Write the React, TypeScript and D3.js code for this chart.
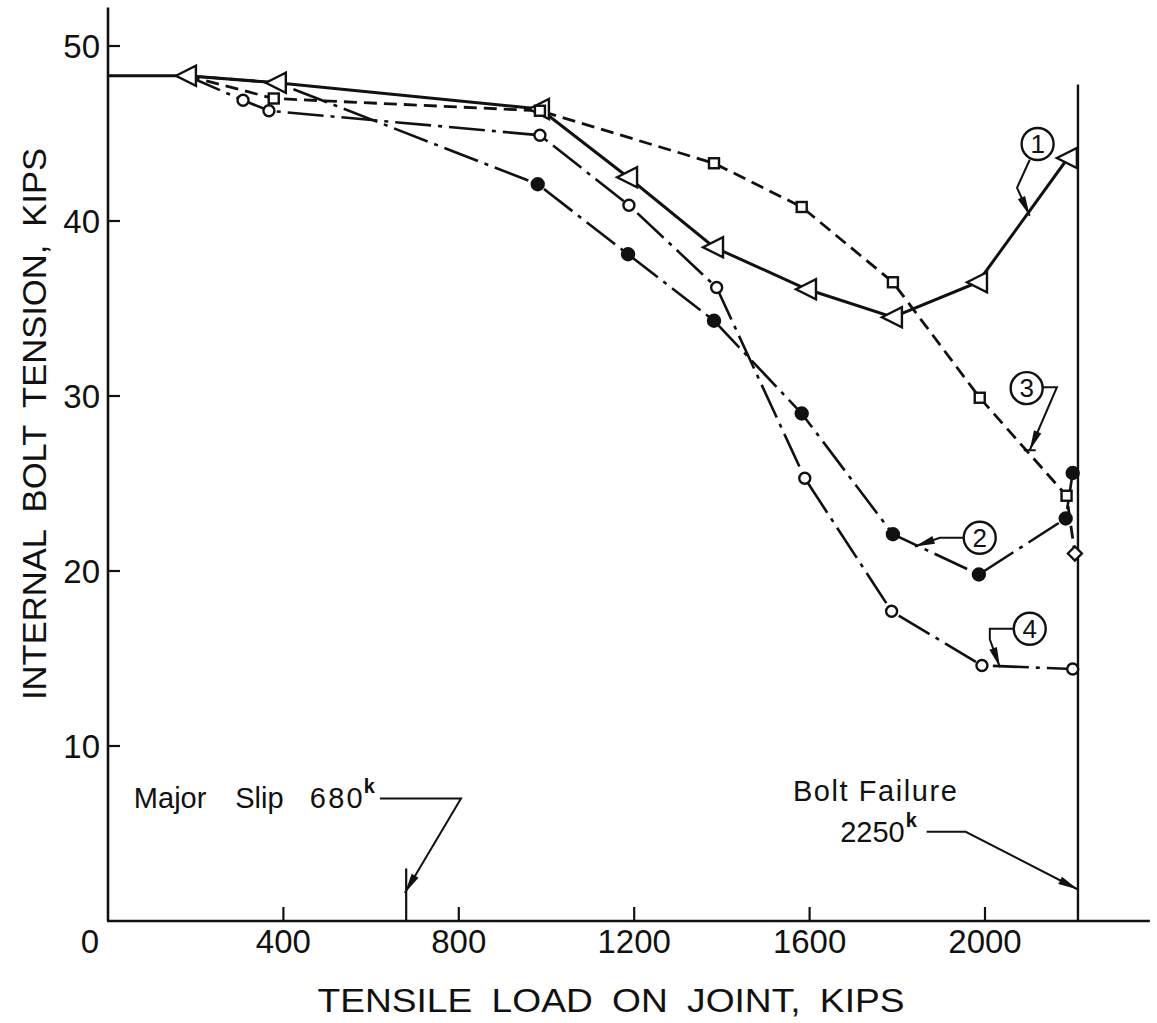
import React, { useEffect, useRef } from 'react'
import * as d3 from 'd3'

// common preload segment before the first reading (kips)
const preloadLoad = [0, 180]
const preloadTension = [48.3, 48.3]

// curve 1 : open triangles, solid line
const load1 = [180, 385, 985, 1186, 1382, 1594, 1790, 1984, 2189]
const tension1 = [48.3, 47.9, 46.4, 42.5, 38.5, 36.1, 34.5, 36.5, 43.6]

// curve 2 : filled circles, dash-dot
const load2 = [180, 385, 980, 1186, 1382, 1582, 1790, 1986, 2184, 2200]
const tension2 = [48.3, 47.9, 42.1, 38.1, 34.3, 29.0, 22.1, 19.8, 23.0, 25.6]

// curve 3 : open squares, dashed (last reading is a diamond)
const load3 = [180, 378, 985, 1382, 1582, 1790, 1988, 2186, 2205]
const tension3 = [48.3, 47.0, 46.3, 43.3, 40.8, 36.5, 29.9, 24.3, 21.0]

// curve 4 : open circles, dash-dot
const load4 = [180, 308, 367, 985, 1188, 1388, 1589, 1787, 1993, 2200]
const tension4 = [48.3, 46.9, 46.3, 44.9, 40.9, 36.2, 25.3, 17.7, 14.6, 14.4]

const xTicks = [400, 800, 1200, 1600, 2000]
const yTicks = [10, 20, 30, 40, 50]

const slipLoad = 680
const failureLoad = 2212 // where the failure line is drawn on the plot
const failureTop = 47.8

// callouts: label, circle centre, leader path (data units)
const callouts = [
    { label: '1', c: [2120, 44.4], path: [[2102, 43.5], [2073, 41.9], [2102, 40.3]], bar: false },
    { label: '3', c: [2095, 30.45], path: [[2132, 30.5], [2164, 30.5], [2102, 26.9]], bar: true },
    { label: '2', c: [1988, 21.9], path: [[1952, 21.9], [1897, 21.9], [1840, 21.4]], bar: false },
    { label: '4', c: [2102, 16.7], path: [[2066, 16.7], [2011, 16.7], [2011, 16.1], [2034, 14.5]], bar: false }
]

const W = 1157
const H = 1023
const FONT = '"Liberation Sans", Arial, sans-serif'

const zip = (a, b) => a.map((v, i) => [v, b[i]])

export default function App() {
    const ref = useRef(null)

    useEffect(() => {
        const svg = d3.select(ref.current)
        svg.selectAll('*').remove()

        const x = d3.scaleLinear().domain([0, 2000]).range([108, 985])
        const y = d3.scaleLinear().domain([0, 50]).range([921, 46])

        const line = d3.line().x(d => x(d[0])).y(d => y(d[1]))

        // axes
        svg.append('line').attr('x1', x(0)).attr('x2', x(0)).attr('y1', y(52.2)).attr('y2', y(0))
            .attr('stroke', '#111').attr('stroke-width', 2.6)
        svg.append('line').attr('x1', x(0) - 1).attr('x2', x(2376)).attr('y1', y(0)).attr('y2', y(0))
            .attr('stroke', '#111').attr('stroke-width', 2.6)

        xTicks.forEach(t => {
            svg.append('line').attr('x1', x(t)).attr('x2', x(t)).attr('y1', y(0)).attr('y2', y(0) - 14)
                .attr('stroke', '#111').attr('stroke-width', 2.2)
            svg.append('text').attr('x', x(t)).attr('y', y(0) + 32).attr('text-anchor', 'middle')
                .attr('font-family', FONT).attr('font-size', 33).attr('fill', '#111').text(t)
        })
        svg.append('text').attr('x', x(0) - 18).attr('y', y(0) + 32).attr('text-anchor', 'middle')
            .attr('font-family', FONT).attr('font-size', 33).attr('fill', '#111').text('0')

        yTicks.forEach(t => {
            svg.append('line').attr('x1', x(0)).attr('x2', x(0) + 12).attr('y1', y(t)).attr('y2', y(t))
                .attr('stroke', '#111').attr('stroke-width', 2.2)
            svg.append('text').attr('x', x(0) - 8).attr('y', y(t) + 12).attr('text-anchor', 'end')
                .attr('font-family', FONT).attr('font-size', 33).attr('fill', '#111').text(t)
        })

        // axis titles
        svg.append('text').attr('x', 611).attr('y', 1012).attr('text-anchor', 'middle')
            .attr('font-family', FONT).attr('font-size', 33).attr('fill', '#111')
            .attr('textLength', 587).attr('lengthAdjust', 'spacingAndGlyphs')
            .attr('word-spacing', 8)
            .text('TENSILE LOAD ON JOINT, KIPS')
        svg.append('text').attr('transform', 'translate(46,424) rotate(-90)').attr('text-anchor', 'middle')
            .attr('font-family', FONT).attr('font-size', 33).attr('fill', '#111')
            .attr('textLength', 552).attr('lengthAdjust', 'spacingAndGlyphs')
            .attr('word-spacing', 8)
            .text('INTERNAL BOLT TENSION, KIPS')

        // bolt failure line
        svg.append('line').attr('x1', x(failureLoad)).attr('x2', x(failureLoad))
            .attr('y1', y(failureTop)).attr('y2', y(0))
            .attr('stroke', '#111').attr('stroke-width', 2.4)

        // curves
        const g = svg.append('g').attr('fill', 'none').attr('stroke', '#111')
        g.append('path').attr('d', line(zip(preloadLoad, preloadTension))).attr('stroke-width', 2.8)
        g.append('path').attr('d', line(zip(load3, tension3))).attr('stroke-width', 2.8)
            .attr('stroke-dasharray', '13,7')
        g.append('path').attr('d', line(zip(load4, tension4))).attr('stroke-width', 2.6)
            .attr('stroke-dasharray', '36,7,4,7')
        g.append('path').attr('d', line(zip(load2, tension2))).attr('stroke-width', 2.6)
            .attr('stroke-dasharray', '36,7,4,7')
        g.append('path').attr('d', line(zip(load1, tension1))).attr('stroke-width', 3)

        // markers
        const m = svg.append('g').attr('stroke', '#111').attr('stroke-width', 2.4)
        zip(load1, tension1).forEach(d => {
            const cx = x(d[0]), cy = y(d[1])
            m.append('path').attr('d', `M${cx - 11},${cy} L${cx + 9},${cy - 10} L${cx + 9},${cy + 10} Z`)
                .attr('fill', '#fff')
        })
        zip(load3, tension3).slice(1).forEach((d, i, arr) => {
            const cx = x(d[0]), cy = y(d[1])
            if (i === arr.length - 1) {
                m.append('path').attr('d', `M${cx},${cy - 7} L${cx + 7},${cy} L${cx},${cy + 7} L${cx - 7},${cy} Z`)
                    .attr('fill', '#fff')
            } else {
                m.append('rect').attr('x', cx - 5).attr('y', cy - 5).attr('width', 10).attr('height', 10)
                    .attr('fill', '#fff')
            }
        })
        zip(load4, tension4).slice(1).forEach(d => {
            m.append('circle').attr('cx', x(d[0])).attr('cy', y(d[1])).attr('r', 5.5).attr('fill', '#fff')
        })
        zip(load2, tension2).slice(2).forEach(d => {
            m.append('circle').attr('cx', x(d[0])).attr('cy', y(d[1])).attr('r', 6).attr('fill', '#111')
        })

        // arrow heads for leaders
        const arrowHead = (p0, p1) => {
            const dx = p1[0] - p0[0], dy = p1[1] - p0[1]
            const len = Math.sqrt(dx * dx + dy * dy)
            const ux = dx / len, uy = dy / len
            const L = 20, w = 4
            const bx = p1[0] - ux * L, by = p1[1] - uy * L
            svg.append('path')
                .attr('d', `M${p1[0]},${p1[1]} L${bx - uy * w},${by + ux * w} L${bx + uy * w},${by - ux * w} Z`)
                .attr('fill', '#111')
        }

        callouts.forEach(c => {
            const cx = x(c.c[0]), cy = y(c.c[1])
            svg.append('circle').attr('cx', cx).attr('cy', cy).attr('r', 16)
                .attr('fill', '#fff').attr('stroke', '#111').attr('stroke-width', 2.4)
            svg.append('text').attr('x', cx).attr('y', cy + 9).attr('text-anchor', 'middle')
                .attr('font-family', FONT).attr('font-size', 26).attr('fill', '#111').text(c.label)
            const pts = c.path.map(p => [x(p[0]), y(p[1])])
            svg.append('path').attr('d', d3.line()(pts)).attr('fill', 'none')
                .attr('stroke', '#111').attr('stroke-width', 2)
            const p0 = pts[pts.length - 2], p1 = pts[pts.length - 1]
            arrowHead(p0, p1)
            if (c.bar) {
                svg.append('line').attr('x1', p1[0] - 6).attr('x2', p1[0] + 6).attr('y1', p1[1]).attr('y2', p1[1])
                    .attr('stroke', '#111').attr('stroke-width', 2)
            }
        })

        // major slip
        svg.append('line').attr('x1', x(slipLoad)).attr('x2', x(slipLoad)).attr('y1', y(3.0)).attr('y2', y(0))
            .attr('stroke', '#111').attr('stroke-width', 2.2)
        const slipPts = [[620, 7.0], [805, 7.0], [677, 1.6]].map(p => [x(p[0]), y(p[1])])
        svg.append('path').attr('d', d3.line()(slipPts)).attr('fill', 'none')
            .attr('stroke', '#111').attr('stroke-width', 2)
        arrowHead(slipPts[1], slipPts[2])
        const slipY = y(7.0) + 9
        const st = svg.append('g').attr('font-family', FONT).attr('font-size', 29).attr('fill', '#111')
        st.append('text').attr('x', x(59)).attr('y', slipY).text('Major')
        st.append('text').attr('x', x(290)).attr('y', slipY).text('Slip')
        st.append('text').attr('x', x(460)).attr('y', slipY).attr('textLength', 53).text('680')
        st.append('text').attr('x', x(583)).attr('y', slipY - 15).attr('font-size', 20).attr('font-weight', 'bold').text('k')

        // bolt failure
        const failPts = [[1867, 5.1], [1956, 5.1], [failureLoad, 1.8]].map(p => [x(p[0]), y(p[1])])
        svg.append('path').attr('d', d3.line()(failPts)).attr('fill', 'none')
            .attr('stroke', '#111').attr('stroke-width', 2)
        arrowHead(failPts[1], failPts[2])
        const ft = svg.append('g').attr('font-family', FONT).attr('font-size', 29).attr('fill', '#111')
        ft.append('text').attr('x', x(1749)).attr('y', y(7.5) + 11).attr('text-anchor', 'middle')
            .attr('textLength', 164).text('Bolt Failure')
        ft.append('text').attr('x', x(1817)).attr('y', y(5.1) + 10).attr('text-anchor', 'end').text('2250')
        ft.append('text').attr('x', x(1819)).attr('y', y(5.1) - 5).attr('font-size', 20).attr('font-weight', 'bold').text('k')
    }, [])

    return (
        <svg ref={ref} width={W} height={H}
            style={{ position: 'absolute', left: 0, top: 0, background: '#fff' }} />
    )
}
